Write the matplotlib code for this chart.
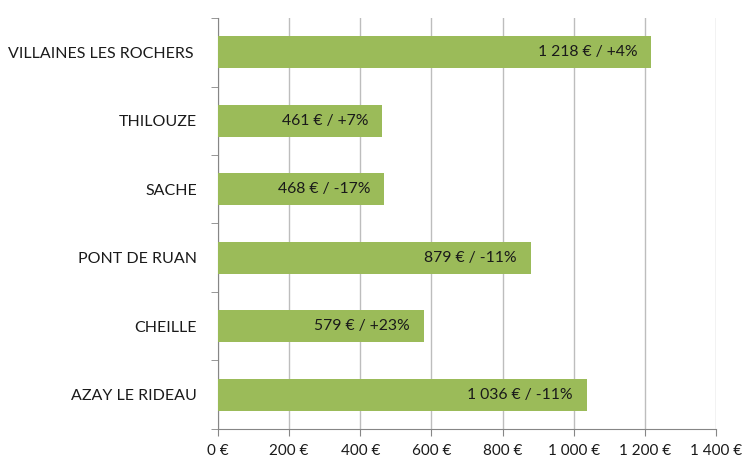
import matplotlib.pyplot as plt
from matplotlib.ticker import FuncFormatter

communes = ["AZAY LE RIDEAU", "CHEILLE", "PONT DE RUAN", "SACHE", "THILOUZE",
            "VILLAINES LES ROCHERS "]
montants = [1036, 579, 879, 468, 461, 1218]
evolutions = ["-11%", "+23%", "-11%", "-17%", "+7%", "+4%"]
x_ticks = [0, 200, 400, 600, 800, 1000, 1200, 1400]

plt.rcParams['font.family'] = ['Lato', 'DejaVu Sans']


def euro(v):
    # French thousands separator
    return f"{int(v):,}".replace(",", " ") + " €"


fig = plt.figure(figsize=(7.47, 4.57), dpi=100)
ax = fig.add_axes([0.2918, 0.0613, 0.6667, 0.8993])

y = range(len(communes))
ax.barh(y, montants, height=0.47, color='#9BBB59', zorder=3)

# labels inside the bars
for yi, v, ev in zip(y, montants, evolutions):
    ax.annotate(f"{euro(v)} / {ev}", xy=(v, yi), xytext=(-10, 0),
                textcoords='offset points', ha='right', va='center',
                fontsize=11.3, color='#1a1a1a', zorder=4)

ax.set_xlim(0, 1400)
ax.set_ylim(-0.5, len(communes) - 0.5)
ax.set_xticks(x_ticks)
ax.xaxis.set_major_formatter(FuncFormatter(lambda v, p: euro(v)))
ax.set_yticks(list(y))
ax.set_yticklabels(communes)
ax.set_yticks([i - 0.5 for i in range(len(communes) + 1)], minor=True)

ax.grid(axis='x', color='#BDBDBD', linewidth=1, zorder=0)
ax.grid(axis='y', visible=False)

for side in ['top', 'right']:
    ax.spines[side].set_visible(False)
for side in ['left', 'bottom']:
    ax.spines[side].set_color('#868686')

ax.tick_params(axis='y', which='major', length=0, pad=15, labelsize=11.5,
               labelcolor='#1a1a1a')
ax.tick_params(axis='y', which='minor', length=5, color='#868686')
ax.tick_params(axis='x', length=5, color='#868686', labelsize=11,
               labelcolor='#1a1a1a', pad=6)

fig.savefig('out.png', dpi=100)
